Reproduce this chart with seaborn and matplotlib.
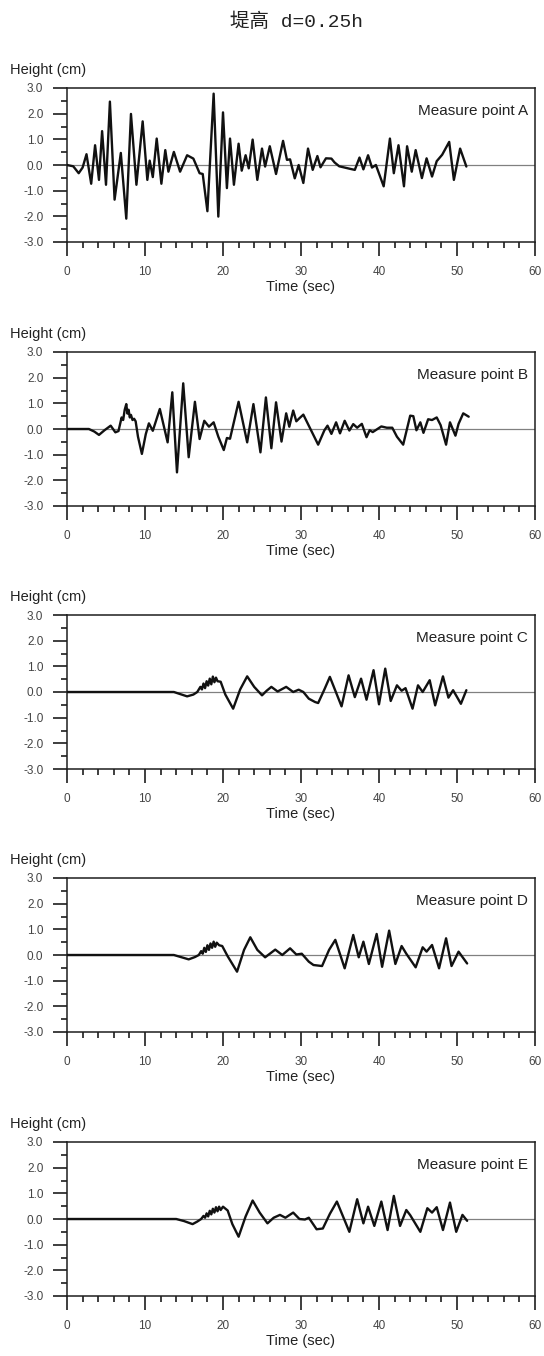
import matplotlib
matplotlib.use("Agg")
import matplotlib.pyplot as plt
from matplotlib.ticker import MultipleLocator, FormatStrFormatter
import pandas as pd
import seaborn as sns

# ---------------------------------------------------------------- data
title = "堤高 d=0.25h"
point_names = ["A", "B", "C", "D", "E"]

time_a = [0, 0.8, 1.5, 2.0, 2.5, 3.1, 3.6, 4.1, 4.5, 5.0, 5.5, 6.1, 6.9, 7.6, 8.2,
          8.9, 9.7, 10.3, 10.6, 11.0, 11.5, 12.1, 12.6, 13.0, 13.7, 14.5, 15.4,
          16.2, 17.0, 17.4, 18.0, 18.8, 19.4, 20.0, 20.5, 20.9, 21.4, 22.0, 22.4,
          22.9, 23.3, 23.8, 24.4, 25.0, 25.4, 26.0, 26.8, 27.7, 28.2, 28.6, 29.2,
          29.7, 30.3, 30.9, 31.5, 32.1, 32.5, 33.2, 33.9, 34.3, 34.9, 35.6, 36.3,
          36.9, 37.5, 38.0, 38.6, 39.1, 39.6, 40.6, 41.4, 41.9, 42.5, 43.2, 43.6,
          44.2, 44.7, 45.5, 46.1, 46.8, 47.4, 48.1, 49.0, 49.6, 50.4, 51.2]
height_a = [0, -0.05, -0.32, -0.1, 0.42, -0.73, 0.77, -0.58, 1.32, -0.77, 2.47, -1.35,
            0.47, -2.09, 1.99, -0.77, 1.70, -0.58, 0.17, -0.47, 1.03, -0.73, 0.58,
            -0.26, 0.51, -0.26, 0.38, 0.25, -0.32, -0.35, -1.80, 2.78, -2.01, 2.05,
            -0.90, 1.03, -0.77, 0.83, -0.22, 0.38, -0.13, 0.99, -0.58, 0.64, -0.06,
            0.73, -0.35, 0.94, 0.20, 0.22, -0.52, 0.0, -0.70, 0.64, -0.19, 0.35,
            -0.09, 0.26, 0.25, 0.10, -0.05, -0.10, -0.15, -0.19, 0.29, -0.17, 0.38,
            -0.10, 0.0, -0.83, 1.03, -0.32, 0.77, -0.83, 0.73, -0.26, 0.58, -0.51,
            0.26, -0.45, 0.15, 0.40, 0.90, -0.58, 0.64, -0.06]

time_b = [0, 2.8, 3.5, 4.1, 4.8, 5.6, 6.2, 6.6, 7.0, 7.2, 7.4, 7.6, 7.75, 7.9, 8.05,
          8.2, 8.4, 8.6, 8.8, 9.1, 9.6, 10.1, 10.5, 11.0, 11.9, 12.9, 13.5, 14.1,
          14.9, 15.6, 16.4, 17.0, 17.6, 18.2, 18.8, 19.4, 20.1, 20.5, 20.9, 22.0,
          23.1, 23.9, 24.8, 25.5, 26.2, 26.8, 27.5, 28.1, 28.5, 29.0, 29.4, 29.8,
          30.3, 32.2, 33.0, 33.4, 33.9, 34.5, 35.0, 35.6, 36.2, 36.7, 37.2, 37.8,
          38.4, 38.8, 39.2, 39.8, 40.3, 41.0, 41.7, 42.3, 43.1, 44.0, 44.4, 44.8,
          45.3, 45.7, 46.3, 46.8, 47.4, 47.9, 48.6, 49.1, 49.8, 50.2, 50.8, 51.5]
height_b = [0, 0, -0.10, -0.23, -0.05, 0.13, -0.13, -0.08, 0.45, 0.35, 0.75, 0.97,
            0.60, 0.75, 0.45, 0.55, 0.35, 0.40, 0.30, -0.30, -0.97, -0.20, 0.22,
            -0.07, 0.78, -0.52, 1.43, -1.69, 1.78, -1.10, 1.06, -0.39, 0.32, 0.09,
            0.26, -0.30, -0.82, -0.35, -0.38, 1.06, -0.52, 0.97, -0.91, 1.23, -0.75,
            1.04, -0.49, 0.61, 0.09, 0.72, 0.30, 0.42, 0.56, -0.61, -0.05, 0.13,
            -0.19, 0.26, -0.17, 0.32, -0.06, 0.19, 0.05, 0.20, -0.32, -0.05, -0.12,
            0.0, 0.10, 0.05, 0.05, -0.30, -0.61, 0.52, 0.50, -0.05, 0.26, -0.15,
            0.38, 0.35, 0.45, 0.15, -0.61, 0.26, -0.26, 0.20, 0.61, 0.48]

time_c = [0, 13.7, 14.5, 15.4, 16.2, 16.7, 17.1, 17.3, 17.5, 17.7, 17.9, 18.1, 18.3,
          18.5, 18.7, 18.9, 19.1, 19.3, 19.7, 20.3, 21.3, 22.2, 23.1, 24.0, 25.0,
          25.6, 26.2, 27.0, 28.1, 29.0, 29.7, 30.3, 31.0, 31.8, 32.2, 33.0, 33.7,
          35.2, 36.1, 36.9, 37.7, 38.4, 39.3, 40.0, 40.8, 41.5, 42.3, 42.9, 43.4,
          44.3, 45.0, 45.6, 46.5, 47.2, 48.2, 48.9, 49.5, 50.5, 51.2]
height_c = [0, 0, -0.08, -0.17, -0.10, 0.0, 0.20, 0.10, 0.33, 0.15, 0.42, 0.25, 0.52,
            0.30, 0.60, 0.38, 0.56, 0.42, 0.40, -0.10, -0.65, 0.10, 0.61, 0.20,
            -0.13, 0.05, 0.20, 0.02, 0.20, 0.0, 0.09, 0.0, -0.26, -0.39, -0.43,
            0.10, 0.59, -0.56, 0.65, -0.20, 0.52, -0.30, 0.85, -0.48, 0.91, -0.35,
            0.26, 0.05, 0.15, -0.65, 0.26, 0.0, 0.46, -0.52, 0.61, -0.22, 0.07,
            -0.46, 0.07]

time_d = [0, 13.7, 14.6, 15.6, 16.4, 16.9, 17.2, 17.4, 17.6, 17.8, 18.0, 18.2, 18.4,
          18.6, 18.8, 19.0, 19.2, 19.5, 19.9, 20.6, 21.8, 22.7, 23.5, 24.4, 25.4,
          26.7, 27.6, 28.6, 29.4, 30.1, 31.0, 31.6, 32.7, 33.6, 34.4, 35.6, 36.7,
          37.4, 38.0, 38.7, 39.7, 40.4, 41.3, 42.1, 42.9, 43.5, 44.7, 45.6, 46.1,
          46.8, 47.7, 48.6, 49.3, 50.2, 51.3]
height_d = [0, 0, -0.08, -0.17, -0.08, 0.0, 0.15, 0.05, 0.28, 0.12, 0.38, 0.20, 0.45,
            0.28, 0.52, 0.32, 0.48, 0.38, 0.35, -0.05, -0.65, 0.20, 0.69, 0.20,
            -0.09, 0.21, 0.0, 0.26, 0.02, 0.05, -0.26, -0.39, -0.43, 0.20, 0.59,
            -0.52, 0.78, -0.09, 0.52, -0.35, 0.82, -0.46, 0.95, -0.35, 0.35, 0.05,
            -0.48, 0.30, 0.13, 0.39, -0.52, 0.65, -0.43, 0.13, -0.33]

time_e = [0, 14.0, 15.0, 16.1, 16.7, 17.2, 17.5, 17.7, 17.9, 18.1, 18.3, 18.5, 18.7,
          18.9, 19.1, 19.3, 19.5, 19.7, 20.0, 20.6, 21.2, 22.0, 22.9, 23.8, 24.7,
          25.7, 26.5, 27.3, 28.0, 29.0, 29.8, 30.5, 31.0, 32.0, 32.8, 33.7, 34.6,
          36.2, 37.2, 38.0, 38.6, 39.4, 40.3, 41.1, 41.9, 42.7, 43.5, 44.0, 45.3,
          46.2, 46.8, 47.4, 48.2, 49.1, 49.9, 50.7, 51.3]
height_e = [0, 0, -0.08, -0.20, -0.10, 0.0, 0.12, 0.05, 0.22, 0.10, 0.32, 0.18, 0.40,
            0.25, 0.46, 0.30, 0.48, 0.35, 0.48, 0.33, -0.20, -0.69, 0.10, 0.72,
            0.25, -0.17, 0.05, 0.16, 0.05, 0.25, 0.0, -0.02, 0.05, -0.40, -0.37,
            0.20, 0.68, -0.50, 0.77, -0.17, 0.48, -0.27, 0.68, -0.43, 0.90, -0.27,
            0.35, 0.15, -0.50, 0.42, 0.25, 0.46, -0.43, 0.64, -0.50, 0.16, -0.07]

series = [(time_a, height_a), (time_b, height_b), (time_c, height_c),
          (time_d, height_d), (time_e, height_e)]

# ---------------------------------------------------------------- style
sns.set_style("ticks")
plt.rcParams["font.family"] = ["Liberation Sans", "DejaVu Sans"]
plt.rcParams["axes.unicode_minus"] = False

W, H = 544, 1356
fig = plt.figure(figsize=(W / 100, H / 100), dpi=100)
fig.patch.set_facecolor("white")

left_px, width_px, height_px = 67, 468, 154
panel_tops = [88, 352, 615, 878, 1142]
ink = "#1e1e1e"

fig.text(296 / W, 1 - 22 / H, title, ha="center", va="center", fontsize=14,
         family=["Liberation Mono", "Noto Sans CJK SC"], color="#222")

for name, (t, h), top in zip(point_names, series, panel_tops):
    ax = fig.add_axes([left_px / W, 1 - (top + height_px) / H,
                       width_px / W, height_px / H])
    ax.axhline(0, color="#808080", lw=0.9, zorder=1)

    df = pd.DataFrame({"Time (sec)": t, "Height (cm)": h})
    sns.lineplot(data=df, x="Time (sec)", y="Height (cm)", ax=ax, color="#111111",
                 lw=1.7, sort=False, estimator=None, zorder=3,
                 solid_joinstyle="round", solid_capstyle="round")

    ax.set_xlim(0, 60)
    ax.set_ylim(-3, 3)
    ax.xaxis.set_major_locator(MultipleLocator(10))
    ax.xaxis.set_minor_locator(MultipleLocator(2))
    ax.yaxis.set_major_locator(MultipleLocator(1))
    ax.yaxis.set_minor_locator(MultipleLocator(0.5))
    ax.yaxis.set_major_formatter(FormatStrFormatter("%.1f"))
    ax.tick_params(which="major", direction="out", length=10, width=1.2,
                   color=ink, labelcolor="#444444", labelsize=8.5, pad=7)
    ax.tick_params(which="minor", direction="out", length=4.5, width=1.2, color=ink)
    for sp in ax.spines.values():
        sp.set_visible(True)
        sp.set_linewidth(1.1)
        sp.set_color(ink)

    ax.set_ylabel("")
    ax.set_xlabel("Time (sec)", fontsize=10.5, color="#222222")
    ax.xaxis.label.set_va("center")
    ax.xaxis.set_label_coords(0.5, -45 / height_px)

    ax.text(0.985, 0.85, f"Measure point {name}", transform=ax.transAxes,
            ha="right", va="center", fontsize=11, color="#222222")
    fig.text(10 / W, 1 - (top - 18) / H, "Height (cm)", ha="left", va="center",
             fontsize=10.5, color="#222222")

fig.savefig("out.png", dpi=100, facecolor="white")
